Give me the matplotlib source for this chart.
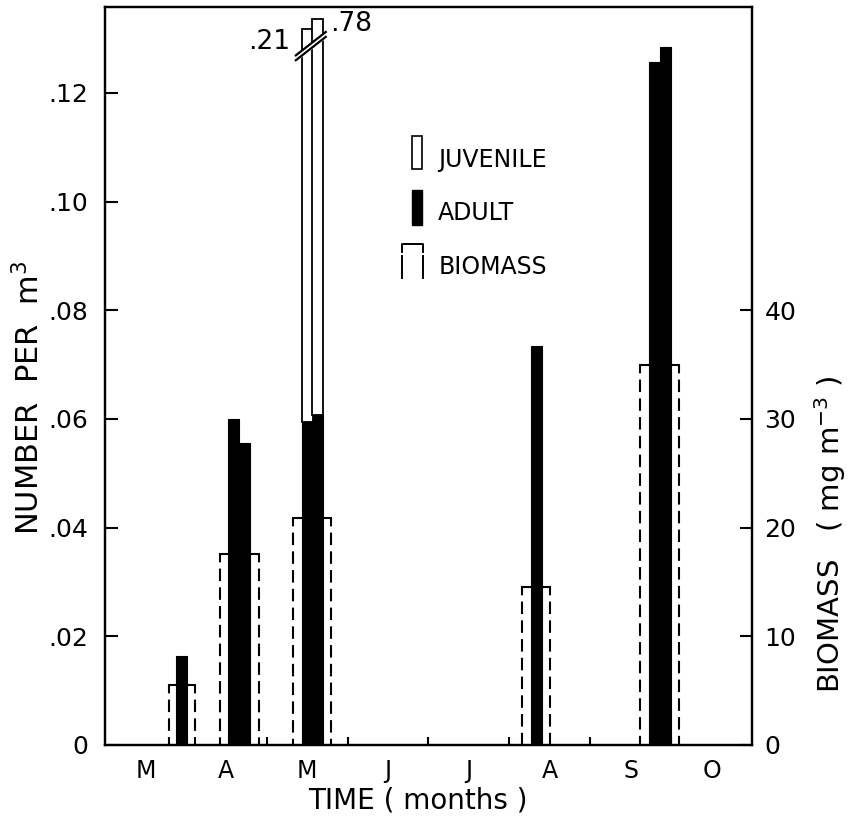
import numpy as np
import matplotlib
matplotlib.use('Agg')
from matplotlib import pyplot as plt

plt.rcParams['font.family'] = ['DejaVu Sans']

# 月份（x 轴以月为单位，0 = 三月初）
months = ['M', 'A', 'M', 'J', 'J', 'A', 'S', 'O']

# 成体数量 (number per m3)
adult_x = [0.95, 1.59, 1.73, 2.50, 2.63, 5.33, 6.80, 6.93]
adult = [0.0164, 0.0600, 0.0556, 0.0594, 0.0607, 0.0734, 0.1257, 0.1285]

# 幼体数量（五月，超出坐标范围，截断显示）
juv_x = [2.50, 2.63]
juvenile = [0.21, 0.78]
juv_labels = ['.21', '.78']

# 生物量 (mg m-3)
bio_x = [0.95, 1.66, 2.56, 5.33, 6.86]
biomass = [5.5, 17.6, 20.9, 14.5, 35.0]
bio_w = [0.32, 0.48, 0.46, 0.35, 0.48]

bar_w = 0.135
ymax = 0.1358
cap = [0.1317, 0.1336]   # 截断后显示的顶端

fig = plt.figure(figsize=(8.48, 8.21), dpi=100)
ax = fig.add_axes([0.1238, 0.0926, 0.7630, 0.8989])
ax2 = ax.twinx()

# 成体
ax.bar(adult_x, adult, width=bar_w, color='black', edgecolor='black', lw=0.8, zorder=3)

# 幼体：叠在成体之上，截断
for i in range(len(juv_x)):
    base = adult[adult_x.index(juv_x[i])]
    top = min(base + juvenile[i], cap[i])
    ax.bar(juv_x[i], top - base, bottom=base, width=bar_w, color='white',
           edgecolor='black', lw=1.3, zorder=3)

# 截断符号
bx = np.array([2.36, 2.73])
lo = np.array([0.1260, 0.1303])
hi = np.array([0.1269, 0.1312])
ax.fill_between(bx, lo, hi, color='white', zorder=4)
ax.plot(bx, lo, color='black', lw=1.6, zorder=5)
ax.plot(bx, hi, color='black', lw=1.6, zorder=5)
ax.text(2.29, 0.1293, juv_labels[0], fontsize=19, ha='right', va='center')
ax.text(2.78, 0.1327, juv_labels[1], fontsize=19, ha='left', va='center')

# 生物量（虚线框）
for x, b, w in zip(bio_x, biomass, bio_w):
    l, r = x - w / 2, x + w / 2
    ax2.plot([l, r], [b, b], color='black', lw=1.5, zorder=4)
    for s in (l, r):
        ax2.plot([s, s], [b, 0], color='black', lw=1.5, ls=(2, (6, 3)), zorder=4)

# 坐标轴
ax.set_xlim(0, 8)
ax.set_ylim(0, ymax)
ax2.set_ylim(0, ymax * 500)

ax.set_yticks([0, 0.02, 0.04, 0.06, 0.08, 0.10, 0.12])
ax.set_yticklabels(['0', '.02', '.04', '.06', '.08', '.10', '.12'], fontsize=18)
ax.tick_params(axis='y', direction='in', length=9, width=1.5, pad=12)
ax2.set_yticks([0, 10, 20, 30, 40])
ax2.set_yticklabels(['0', '10', '20', '30', '40'], fontsize=18)
ax2.tick_params(axis='y', direction='in', length=9, width=1.5, pad=9)

ax.set_xticks(np.arange(8) + 0.5)
ax.set_xticklabels(months, fontsize=17)
ax.set_xticks(np.arange(1, 8), minor=True)
ax.tick_params(axis='x', which='major', length=0, pad=10)
ax.tick_params(axis='x', which='minor', direction='in', length=6, width=1.5)

for a in (ax, ax2):
    for sp in a.spines.values():
        sp.set_linewidth(1.6)

ax.set_xlabel('TIME ( months )', fontsize=20)
ax.xaxis.set_label_coords(0.484, -0.056)
ax.set_ylabel('NUMBER  PER  m$^3$', fontsize=22)
ax.yaxis.set_label_coords(-0.092, 0.47)
ax2.set_ylabel('BIOMASS   ( mg m$^{-3}$ )', fontsize=21)
ax2.yaxis.set_label_coords(1.093, 0.285)

# 图例
ax.add_patch(plt.Rectangle((3.80, 0.1060), 0.12, 0.0061, facecolor='white',
                           edgecolor='black', lw=1.2, zorder=5))
ax.add_patch(plt.Rectangle((3.80, 0.0957), 0.12, 0.0064, facecolor='black',
                           edgecolor='black', lw=1.0, zorder=5))
ax.plot([3.67, 3.67, 3.93, 3.93], [0.0907, 0.0922, 0.0922, 0.0907], color='black', lw=1.4)
ax.plot([3.67, 3.67], [0.0900, 0.0859], color='black', lw=1.4)
ax.plot([3.93, 3.93], [0.0900, 0.0859], color='black', lw=1.4)
ax.text(4.12, 0.1076, 'JUVENILE', fontsize=17, va='center')
ax.text(4.12, 0.0978, 'ADULT', fontsize=17, va='center')
ax.text(4.12, 0.0880, 'BIOMASS', fontsize=17, va='center')

plt.savefig('out.png', dpi=100)
